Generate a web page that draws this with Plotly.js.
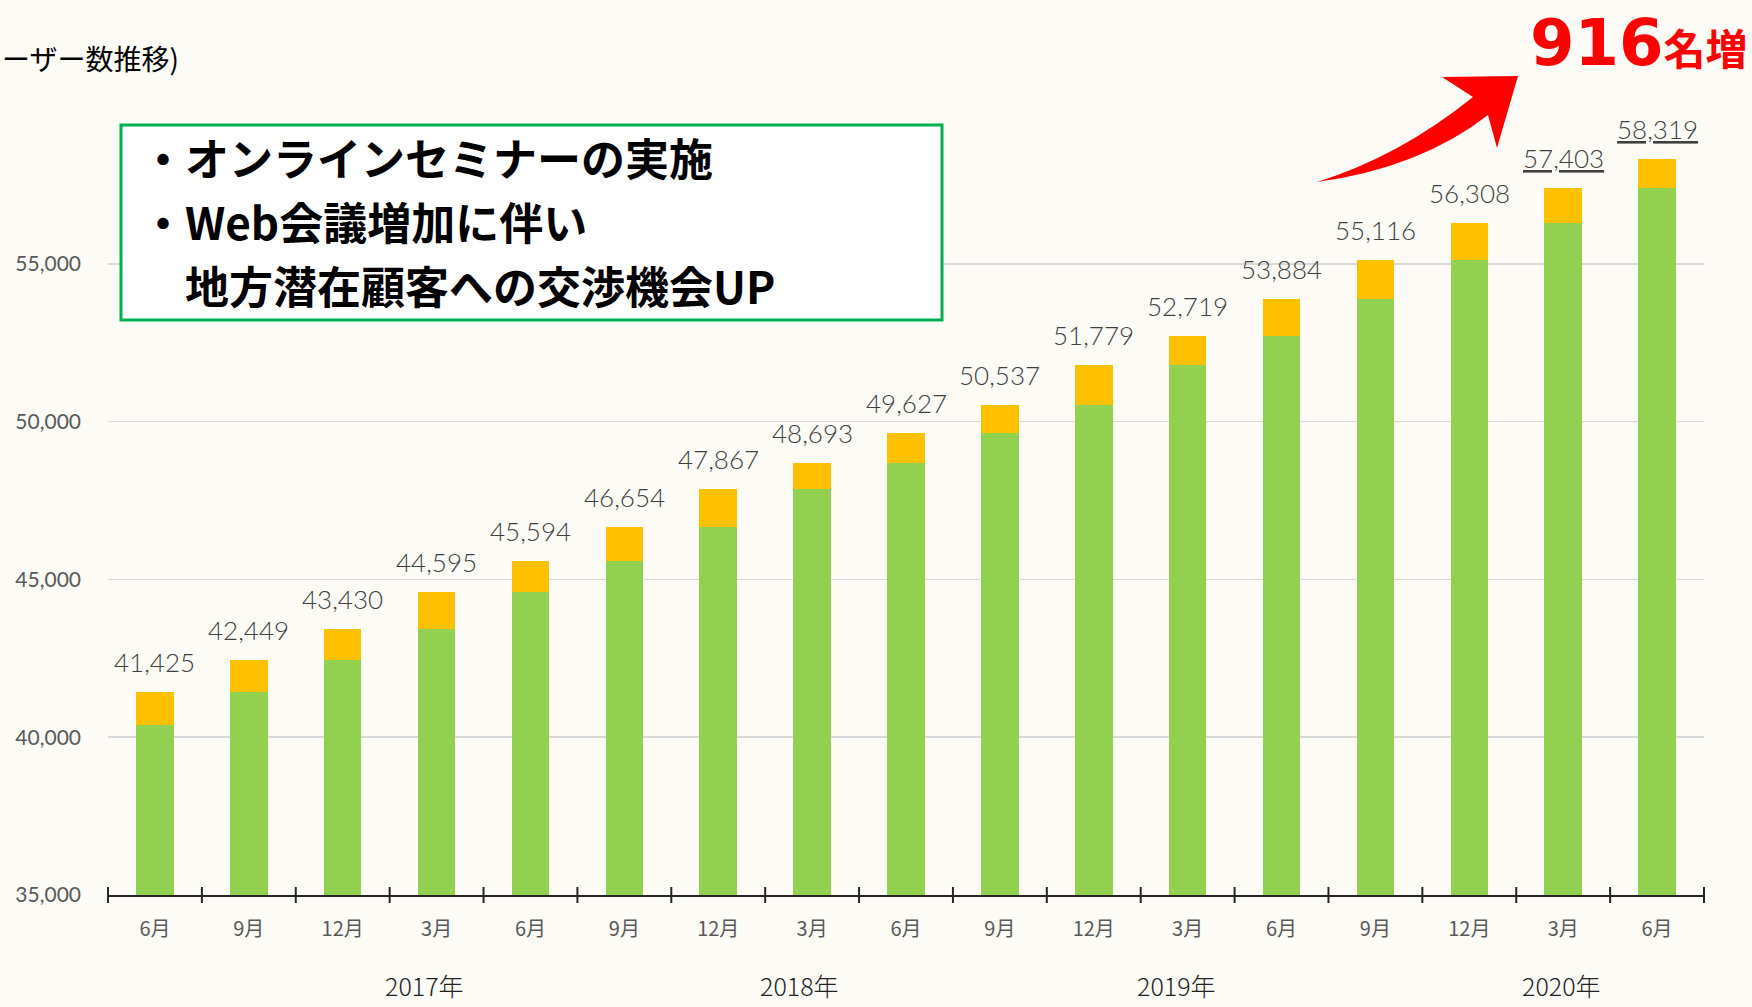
<!DOCTYPE html>
<html>
<head>
<meta charset="utf-8">
<script src="https://cdn.plot.ly/plotly-3.0.1.min.js"></script>
<style>
  html, body { margin: 0; padding: 0; background: #fcfbf6; }
  #chart { width: 1752px; height: 1007px; }
</style>
</head>
<body>
<div id="chart"></div>
<script>
// ---------------- data ----------------
const months = ['6月','9月','12月','3月','6月','9月','12月','3月','6月','9月','12月','3月','6月','9月','12月','3月','6月'];
const totals = [41425, 42449, 43430, 44595, 45594, 46654, 47867, 48693, 49627, 50537, 51779, 52719, 53884, 55116, 56308, 57403, 58319];
const previousTotals = [40390, 41425, 42449, 43430, 44595, 45594, 46654, 47867, 48693, 49627, 50537, 51779, 52719, 53884, 55116, 56308, 57403];
const years = ['2017年', '2018年', '2019年', '2020年'];
const yearCenters = [2.87, 6.87, 10.88, 14.98];
const underlinedLabels = [15, 16];
const headline = '916';
const headlineUnit = '名増';
const titleText = 'ーザー数推移)';
const boxLines = ['・オンラインセミナーの実施', '・Web会議増加に伴い', '　地方潜在顧客への交渉機会UP'];

// ---------------- layout geometry ----------------
const W = 1752, H = 1007;
const M = { l: 108, r: 48, t: 106, b: 112 };
const PW = W - M.l - M.r, PH = H - M.t - M.b;
const px = x => (x - M.l) / PW;
const py = y => (H - M.b - y) / PH;

const idx = months.map((_, i) => i);
const increase = totals.map((t, i) => t - previousTotals[i]);

const traces = [
  {
    type: 'bar', x: idx, y: previousTotals,
    marker: { color: '#92D050', line: { width: 0 } },
    hoverinfo: 'skip', showlegend: false
  },
  {
    type: 'bar', x: idx, y: increase,
    marker: { color: '#FFC000', line: { width: 0 } },
    hoverinfo: 'skip', showlegend: false
  }
];

const annotations = [];
totals.forEach((t, i) => {
  let s = t.toLocaleString('en-US');
  if (underlinedLabels.includes(i)) s = '<u>' + s + '</u>';
  annotations.push({
    x: i, y: t, xref: 'x', yref: 'y', text: s, showarrow: false,
    yanchor: 'bottom', yshift: 12,
    font: { family: 'Lato', weight: 300, size: 26, color: '#404040' }
  });
});
years.forEach((yl, i) => {
  annotations.push({
    x: yearCenters[i], xref: 'x', y: py(985), yref: 'paper', text: yl, showarrow: false,
    yanchor: 'middle',
    font: { family: 'Noto Sans CJK JP', weight: 300, size: 25, color: '#222222' }
  });
});
annotations.push({
  x: px(0), y: py(58), xref: 'paper', yref: 'paper', xanchor: 'left', yanchor: 'middle',
  text: titleText, showarrow: false,
  font: { family: 'Noto Sans CJK JP', size: 28, color: '#000000' }
});
annotations.push({
  x: px(1750), y: py(43), xref: 'paper', yref: 'paper', xanchor: 'right', yanchor: 'middle',
  text: '<b>' + headline + '</b><b><span style="font-size:42px">' + headlineUnit + '</span></b>',
  showarrow: false,
  font: { family: 'DejaVu Sans, Noto Sans CJK JP', size: 64, color: '#FF0000' }
});
const boxLineY = [157, 221, 285];
boxLines.forEach((ln, i) => {
  annotations.push({
    x: px(140), y: py(boxLineY[i]), xref: 'paper', yref: 'paper', xanchor: 'left', yanchor: 'middle',
    text: '<b>' + ln + '</b>', align: 'left', showarrow: false, borderpad: 0,
    font: { family: 'Noto Sans CJK JP', size: 44, color: '#000000' }
  });
});

const shapes = [];
// green framed note box
shapes.push({
  type: 'rect', xref: 'paper', yref: 'paper',
  x0: px(121), x1: px(942), y0: py(320), y1: py(125),
  fillcolor: '#ffffff', line: { color: '#00B050', width: 3 }, layer: 'above'
});
// category boundary ticks crossing the axis
for (let k = 0; k <= months.length; k++) {
  shapes.push({
    type: 'line', xref: 'paper', yref: 'paper',
    x0: k / months.length, x1: k / months.length, y0: -8 / PH, y1: 8 / PH,
    line: { color: '#262626', width: 2 }
  });
}
// red curved arrow
const pt = (x, y) => px(x).toFixed(5) + ',' + py(y).toFixed(5);
const arrowPath = 'M ' + pt(1317, 182) +
  ' Q ' + pt(1400, 156) + ' ' + pt(1473, 97) +
  ' L ' + pt(1442, 77) + ' L ' + pt(1518, 76) + ' L ' + pt(1497, 148) +
  ' L ' + pt(1488, 115) +
  ' Q ' + pt(1420, 168) + ' ' + pt(1317, 182) + ' Z';
shapes.push({
  type: 'path', xref: 'paper', yref: 'paper', path: arrowPath,
  fillcolor: '#FF0000', line: { width: 0 }, layer: 'above'
});

const layout = {
  width: W, height: H,
  margin: M,
  paper_bgcolor: '#fcfbf6', plot_bgcolor: 'rgba(0,0,0,0)',
  barmode: 'stack', bargap: 0.6,
  showlegend: false,
  xaxis: {
    range: [-0.5, months.length - 0.5],
    tickmode: 'array', tickvals: idx, ticktext: months,
    ticks: '', showgrid: false, zeroline: false,
    showline: true, linecolor: '#262626', linewidth: 2,
    ticklabelstandoff: 15,
    tickfont: { family: 'Noto Sans CJK JP', size: 20, color: '#595959' },
    fixedrange: true
  },
  yaxis: {
    range: [35000, 60000],
    tickmode: 'array', tickvals: [35000, 40000, 45000, 50000, 55000],
    ticktext: ['35,000', '40,000', '45,000', '50,000', '55,000'],
    ticks: '', showgrid: true, gridcolor: '#d9d9d9', gridwidth: 1.5,
    zeroline: false, showline: false,
    ticklabelstandoff: 26,
    tickfont: { family: 'Lato', size: 21, color: '#595959' },
    fixedrange: true
  },
  annotations: annotations,
  shapes: shapes
};

Plotly.newPlot('chart', traces, layout, { displayModeBar: false, staticPlot: true });
</script>
</body>
</html>
